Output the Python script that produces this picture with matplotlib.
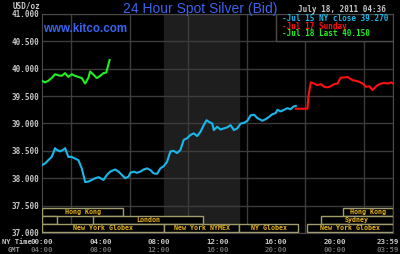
import numpy as np
import matplotlib
matplotlib.use("Agg")
import matplotlib.pyplot as plt
import matplotlib.transforms as mtrans
from matplotlib.patches import Rectangle

# Jul 15 (previous NY day) - cyan
cyan_h = [0, 0.21, 0.43, 0.66, 0.77, 0.89, 1.0, 1.23, 1.46, 1.58, 1.8, 2.03, 2.26, 2.49,
          2.72, 2.95, 3.18, 3.41, 3.64, 3.87, 4.21, 4.43, 4.66, 5.0, 5.24, 5.46, 5.69,
          5.92, 6.04, 6.26, 6.49, 6.72, 6.95, 7.18, 7.41, 7.63, 7.87, 8.09, 8.32, 8.55,
          8.78, 9.0, 9.24, 9.47, 9.69, 9.92, 10.15, 10.38, 10.61, 10.84, 11.06, 11.25,
          11.41, 11.64, 11.75, 11.98, 12.21, 12.43, 12.67, 12.89, 13.12, 13.35, 13.58,
          13.81, 14.04, 14.27, 14.5, 14.72, 15.07, 15.3, 15.52, 15.75, 15.98, 16.1,
          16.32, 16.55, 16.78, 17.0, 17.2, 17.35]
cyan_v = [38.24, 38.27, 38.33, 38.39, 38.46, 38.55, 38.52, 38.49, 38.52, 38.55, 38.39,
          38.39, 38.36, 38.33, 38.18, 37.93, 37.94, 37.97, 38.00, 38.02, 37.97, 38.06,
          38.12, 38.16, 38.12, 38.06, 38.00, 38.03, 38.10, 38.12, 38.10, 38.12, 38.16,
          38.18, 38.15, 38.09, 38.08, 38.18, 38.22, 38.30, 38.49, 38.50, 38.46, 38.52,
          38.70, 38.73, 38.79, 38.82, 38.77, 38.85, 38.97, 39.06, 39.03, 39.00, 38.88,
          38.94, 38.89, 38.91, 38.93, 38.97, 38.88, 38.91, 39.00, 39.01, 39.05, 39.15,
          39.16, 39.10, 39.05, 39.08, 39.12, 39.17, 39.19, 39.25, 39.22, 39.25, 39.28,
          39.26, 39.31, 39.32]

# Jul 17 Sunday - red
red_h = [17.35, 18.15, 18.22, 18.38, 18.61, 18.84, 19.07, 19.29, 19.53, 19.75, 19.98,
         20.21, 20.32, 20.44, 20.67, 20.9, 21.0, 21.24, 21.47, 21.7, 21.93, 22.15,
         22.38, 22.61, 22.77, 22.96, 23.18, 23.41, 23.64, 23.87, 24.0]
red_v = [39.27, 39.27, 39.50, 39.75, 39.73, 39.70, 39.72, 39.67, 39.66, 39.68, 39.72,
         39.73, 39.79, 39.84, 39.84, 39.85, 39.83, 39.79, 39.78, 39.76, 39.73, 39.67,
         39.68, 39.61, 39.66, 39.70, 39.73, 39.74, 39.73, 39.75, 39.73]

# Jul 18 today - green
green_h = [0, 0.21, 0.43, 0.66, 0.89, 1.12, 1.35, 1.58, 1.8, 2.03, 2.26, 2.49, 2.72,
           2.95, 3.18, 3.29, 3.52, 3.75, 3.98, 4.2, 4.39, 4.5, 4.62]
green_v = [39.78, 39.75, 39.78, 39.83, 39.90, 39.88, 39.87, 39.92, 39.85, 39.90, 39.87,
           39.85, 39.83, 39.73, 39.84, 39.95, 39.89, 39.83, 39.87, 39.92, 39.93, 40.04,
           40.16]

ny_ticks = [0, 4, 8, 12, 16, 20, 23.98]
ny_labels = ["00:00", "04:00", "08:00", "12:00", "16:00", "20:00", "23:59"]
gmt_labels = ["04:00", "08:00", "12:00", "16:00", "20:00", "00:00", "03:59"]

# trading sessions: name, start hour, end hour, row
sess_name = ["Hong Kong", "Hong Kong", "", "London", "Sydney",
             "New York Globex", "New York NYMEX", "NY Globex", "New York Globex"]
sess_start = [0, 20.6, 0, 3.5, 19.07, 0, 8.33, 13.5, 18.1]
sess_end = [5.55, 24, 1.03, 11.0, 24, 8.33, 13.5, 17.5, 24]
sess_row = [0, 0, 1, 1, 1, 2, 2, 2, 2]

nymex_open, nymex_close = 8.33, 13.5

mono = "DejaVu Sans Mono"
lab = "#c8c8c8"
cyan = "#1ab8ea"
red = "#ff1010"
green = "#22ee22"
gold = "#e8b41a"
olive = "#a09c6c"
gridc = "#3c3c3c"

fig = plt.figure(figsize=(4, 2.54), dpi=100, facecolor="black")
ax = fig.add_axes([0.105, 0.0827, 0.8775, 0.8622], facecolor="black")
ax.set_xlim(0, 24)
ax.set_ylim(37, 41)

ax.axvspan(nymex_open, nymex_close, color="#1e1e1e", zorder=0)

ax.set_yticks(np.arange(37, 41.01, 0.5))
ax.set_yticklabels(["%.3f" % v for v in np.arange(37, 41.01, 0.5)],
                   family=mono, fontsize=5.5, fontweight="bold", color=lab)
ax.set_xticks(ny_ticks)
ax.set_xticklabels(ny_labels, family=mono, fontsize=5.3, fontweight="bold", color=lab)
ax.set_xticks(np.arange(0, 24.1, 2), minor=True)
ax.tick_params(length=0, pad=2)
ax.tick_params(axis="x", pad=4)
ax.grid(False)
ax.grid(True, which="minor", axis="x", color=gridc, lw=1)
ax.grid(True, which="major", axis="y", color=gridc, lw=1)
ax.set_axisbelow(True)
for s in ax.spines.values():
    s.set_color("#4a4a4a")

shift = mtrans.ScaledTranslation(-5 / 100, 0, fig.dpi_scale_trans)
last = ax.get_xticklabels()[-1]
last.set_transform(last.get_transform() + shift)

xt = ax.get_xaxis_transform()
for h, g in zip(ny_ticks, gmt_labels):
    tr = xt + shift if h == ny_ticks[-1] else xt
    ax.text(h, -0.078, g, transform=tr, ha="center", va="center", family=mono,
            fontsize=5.3, fontweight="bold", color="#6a6a6a")
fig.text(0.004, 0.047, "NY Time", family=mono, fontsize=5.1, fontweight="bold",
         color=lab, va="center")
fig.text(0.02, 0.016, "GMT", family=mono, fontsize=5.1, fontweight="bold",
         color="#9a9a9a", va="center")

# session bands
row_top, row_h = 37.46, 0.147
for name, a, b, r in zip(sess_name, sess_start, sess_end, sess_row):
    y0 = row_top - (r + 1) * row_h
    ax.add_patch(Rectangle((a, y0), b - a, row_h, facecolor="black", edgecolor=olive,
                           lw=1, zorder=3))
    if name:
        ax.text((a + b) / 2, y0 + row_h / 2, name, ha="center", va="center",
                family=mono, fontsize=4.8, fontweight="bold", color=gold, zorder=4)

ax.plot(cyan_h, cyan_v, color=cyan, lw=1.5, zorder=5)
ax.plot(red_h, red_v, color=red, lw=1.5, zorder=5)
ax.plot(green_h, green_v, color=green, lw=1.5, zorder=5)

# legend box
ax.add_patch(Rectangle((16, 40.5), 8, 0.5, facecolor="black", edgecolor="#4a4a4a",
                       lw=1, zorder=6))
leg = [("Jul 15 NY close 39.270", cyan), ("Jul 17 Sunday", red),
       ("Jul 18 Last 40.150", green)]
for i, (t, c) in enumerate(leg):
    yy = 0.979 - i * 0.035
    ax.text(0.683, yy, "-" + t, transform=ax.transAxes, ha="left", va="center",
            family=mono, fontsize=5.5, fontweight="bold", color=c, zorder=7)

fig.text(0.5, 0.966, "24 Hour Spot Silver (Bid)", ha="center", va="center",
         family="Liberation Sans", fontsize=10, color="#3a63f0")
ax.text(0.003, 0.93, "www.kitco.com", transform=ax.transAxes, ha="left", va="center",
        family="Liberation Sans", fontsize=8.3, fontweight="bold", color="#3a63f0")
fig.text(0.1, 0.978, "USD/oz", ha="right", va="center", family=mono, fontsize=5.5,
         fontweight="bold", color=lab)
fig.text(0.965, 0.962, "July 18, 2011 04:36", ha="right", va="center", family=mono,
         fontsize=5.5, fontweight="bold", color=lab)

fig.savefig("out.png", dpi=100, facecolor="black")
